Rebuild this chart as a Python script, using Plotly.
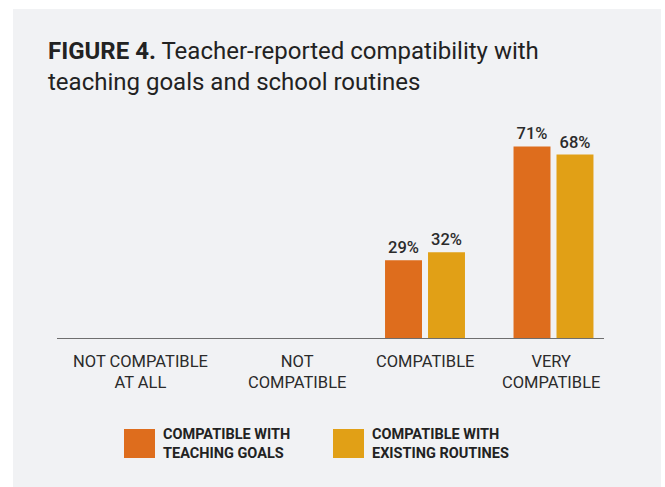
import plotly.graph_objects as go

categories = ["NOT COMPATIBLE<br>AT ALL", "NOT<br>COMPATIBLE", "COMPATIBLE", "VERY<br>COMPATIBLE"]
series_names = ["COMPATIBLE WITH<br>TEACHING GOALS", "COMPATIBLE WITH<br>EXISTING ROUTINES"]
teaching_goals = [0, 0, 29, 71]
existing_routines = [0, 0, 32, 68]
colors = ["#DE6D1D", "#E1A016"]

W, H = 665, 487
L, R, T, B = 57, 61, 122, 148
pw, ph = W - L - R, H - T - B


def px(x):
    return (x - L) / pw


def py(y):
    return (H - B - y) / ph


FONT = "Roboto"
TXT = "#2b2b2b"

fig = go.Figure()
for name, vals, col in zip(series_names, [teaching_goals, existing_routines], colors):
    fig.add_trace(go.Bar(
        x=categories, y=vals, name=name, marker=dict(color=col, line=dict(width=0)),
        text=[f"{v}%" if v else "" for v in vals], textposition="outside",
        textfont=dict(family=FONT, size=16.5, color=TXT, weight=500),
        cliponaxis=False, showlegend=False,
    ))

shapes = [dict(type="rect", xref="paper", yref="paper", x0=px(13), x1=px(661), y0=py(487), y1=py(9),
               fillcolor="#F1F2F4", line=dict(width=0), layer="below")]
annotations = [dict(
    xref="paper", yref="paper", x=px(46), y=py(35), xanchor="left", yanchor="top", align="left",
    text="<b>FIGURE 4.</b> Teacher-reported compatibility with<br>teaching goals and school routines",
    showarrow=False, font=dict(family=FONT, size=24, color="#222222"),
)]
label_shift = [-28, 0, 0, -3]
for c, s in zip(categories, label_shift):
    annotations.append(dict(x=c, xref="x", yref="paper", y=py(350), yanchor="top", xanchor="center",
                            xshift=s, text=c, showarrow=False, align="center",
                            font=dict(family=FONT, size=16.5, color=TXT)))

legend_sw = [124, 333]
for name, col, x0 in zip(series_names, colors, legend_sw):
    shapes.append(dict(type="rect", xref="paper", yref="paper", x0=px(x0), x1=px(x0 + 31),
                       y0=py(458), y1=py(429), fillcolor=col, line=dict(width=0)))
    annotations.append(dict(xref="paper", yref="paper", x=px(x0 + 37), y=py(443.5), xanchor="left",
                            yanchor="middle", align="left", text=f"<b>{name}</b>", showarrow=False,
                            font=dict(family=FONT, size=14.5, color="#222222")))

fig.update_layout(
    width=W, height=H, margin=dict(l=L, r=R, t=T, b=B),
    paper_bgcolor="white", plot_bgcolor="rgba(0,0,0,0)",
    barmode="group", bargap=0.331, bargroupgap=0.14,
    shapes=shapes, annotations=annotations, showlegend=False,
    xaxis=dict(type="category", range=[-0.864, 3.393], showticklabels=False, showgrid=False,
               showline=False, zeroline=False, fixedrange=True),
    yaxis=dict(range=[0, 80], visible=False, showgrid=False, zeroline=False, fixedrange=True),
)
fig.add_shape(type="line", xref="paper", yref="y", x0=0, x1=1, y0=0, y1=0,
              line=dict(color="#6E6E6E", width=2), layer="above")

fig.write_html("out.html", config={"displayModeBar": False})
